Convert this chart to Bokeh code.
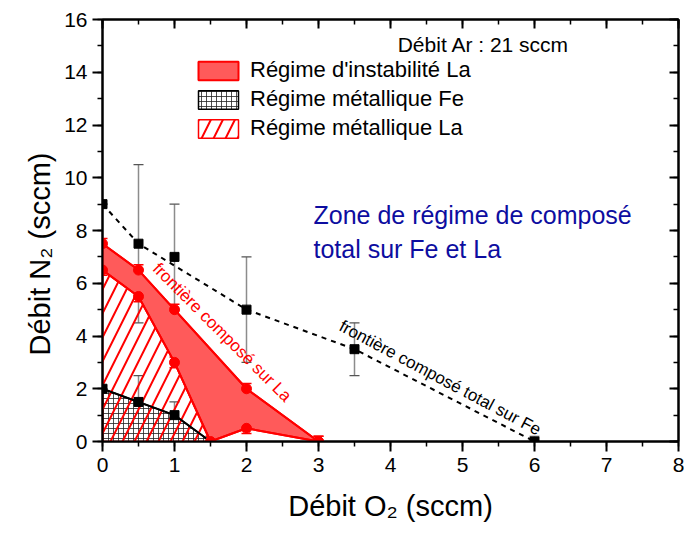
import math
from bokeh.plotting import figure
from bokeh.models import (LinearAxis, Range1d, Label, Whisker, ColumnDataSource, Title,
                          Legend, LegendItem, SingleIntervalTicker, TeeHead)
from bokeh.embed import file_html
from bokeh.resources import INLINE

# ---------------- data ----------------
# Fe: total-compound boundary (black squares, dashed)
fe_up_x = [0, 0.5, 1, 2, 3.5, 6]
fe_up_y = [9, 7.5, 7, 5, 3.5, 0]
fe_up_err = [0, 3, 2, 2, 1, 0.2]
# dashed guide line for Fe boundary
fe_dash_x = [0, 0.5, 2, 3.5, 6]
fe_dash_y = [9, 7.5, 5, 3.5, 0]
# Fe: metallic boundary (black squares, solid)
fe_lo_x = [0, 0.5, 1, 1.5]
fe_lo_y = [2, 1.5, 1, 0]
fe_lo_mk_x = [0, 0.5, 1]
fe_lo_mk_y = [2, 1.5, 1]
fe_lo_err = [0, 1, 0.5]
# La: compound boundary (upper red line)
la_up_x = [0, 0.5, 1, 2, 3]
la_up_y = [7.5, 6.5, 5, 2, 0]
# La: metallic boundary (lower red line)
la_lo_x = [0, 0.5, 1, 1.5, 2, 3]
la_lo_y = [6.5, 5.5, 3, 0, 0.5, 0]
la_err = 0.2

legend_labels = ["Régime d'instabilité La", "Régime métallique Fe", "Régime métallique La"]

FONT = "Liberation Sans"
RED = "#ff0000"
RED_FILL = "#ff5a5a"

p = figure(width=684, height=535, x_range=Range1d(0, 8), y_range=Range1d(0, 16),
           output_backend="svg", toolbar_location=None,
           min_border_left=102, min_border_right=6, min_border_top=19, min_border_bottom=94)
p.grid.visible = False
p.outline_line_color = "black"
p.outline_line_width = 2
p.background_fill_color = "white"
p.border_fill_color = "white"

for ax in (p.xaxis[0], p.yaxis[0]):
    ax.axis_line_width = 2
    ax.major_tick_line_width = 2
    ax.minor_tick_line_width = 1.5
    ax.major_tick_in = 0
    ax.major_tick_out = 10
    ax.minor_tick_in = 0
    ax.minor_tick_out = 5
    ax.major_label_text_font = FONT
    ax.major_label_text_font_size = "21px"
    ax.major_label_text_color = "black"
    ax.axis_label_text_font = FONT
    ax.axis_label_text_font_size = "29px"
    ax.axis_label_text_font_style = "normal"
    ax.axis_label_text_color = "black"
p.xaxis[0].ticker = SingleIntervalTicker(interval=1, num_minor_ticks=2)
p.yaxis[0].ticker = SingleIntervalTicker(interval=2, num_minor_ticks=2)
p.xaxis[0].major_label_standoff = 6
p.yaxis[0].major_label_standoff = 5
p.xaxis[0].axis_label = "Débit O₂ (sccm)"
p.xaxis[0].axis_label_standoff = 15

ytitle = Title(text="Débit N₂ (sccm)", align="left", offset=86, standoff=11,
               text_font=FONT, text_font_size="29px", text_font_style="normal",
               text_color="black")
p.add_layout(ytitle, "left")

top = LinearAxis(ticker=SingleIntervalTicker(interval=1, num_minor_ticks=2))
right = LinearAxis(ticker=SingleIntervalTicker(interval=2, num_minor_ticks=2))
for ax in (top, right):
    ax.axis_line_width = 2
    ax.major_tick_line_width = 2
    ax.minor_tick_line_width = 1.5
    ax.major_tick_in = 9
    ax.major_tick_out = 0
    ax.minor_tick_in = 5
    ax.minor_tick_out = 0
    ax.major_label_text_font_size = "0px"
    ax.major_label_text_color = None
    ax.major_label_standoff = 0
p.add_layout(top, "above")
p.add_layout(right, "right")

# ---------------- regions ----------------
fe_poly_x = [0] + fe_lo_x
fe_poly_y = [0] + fe_lo_y
r_fe = p.patch(fe_poly_x, fe_poly_y, fill_color="white", fill_alpha=1,
               line_color="black", line_width=1.5,
               hatch_pattern="+", hatch_color="#222222", hatch_scale=5, hatch_weight=0.8)

la_met_x = [0] + la_lo_x[:4]
la_met_y = [0] + la_lo_y[:4]
r_la = p.patch(la_met_x, la_met_y, fill_alpha=0, line_color=RED, line_width=1.5,
               hatch_pattern="/", hatch_color=RED, hatch_scale=24, hatch_weight=2)

inst_x = la_up_x + la_lo_x[::-1]
inst_y = la_up_y + la_lo_y[::-1]
r_inst = p.patch(inst_x, inst_y, fill_color=RED_FILL, line_color=RED, line_width=2)

# ---------------- error bars ----------------
src_fe_up = ColumnDataSource(dict(x=fe_up_x, lo=[y - e for y, e in zip(fe_up_y, fe_up_err)],
                                  hi=[y + e for y, e in zip(fe_up_y, fe_up_err)]))
src_fe_lo = ColumnDataSource(dict(x=fe_lo_mk_x, lo=[y - e for y, e in zip(fe_lo_mk_y, fe_lo_err)],
                                  hi=[y + e for y, e in zip(fe_lo_mk_y, fe_lo_err)]))
for src in (src_fe_up, src_fe_lo):
    p.add_layout(Whisker(source=src, base="x", lower="lo", upper="hi", dimension="height",
                         line_color="#8c8c8c", line_width=1.5,
                         upper_head=TeeHead(size=10, line_color="#555555", line_width=1.2),
                         lower_head=TeeHead(size=10, line_color="#555555", line_width=1.2)))

la_all_x = la_up_x + la_lo_x
la_all_y = la_up_y + la_lo_y
src_la = ColumnDataSource(dict(x=la_all_x, lo=[y - la_err for y in la_all_y],
                               hi=[y + la_err for y in la_all_y]))
p.add_layout(Whisker(source=src_la, base="x", lower="lo", upper="hi", dimension="height",
                     line_color=RED, line_width=1.5,
                     upper_head=TeeHead(size=10, line_color=RED, line_width=1.5),
                     lower_head=TeeHead(size=10, line_color=RED, line_width=1.5)))

# ---------------- lines & markers ----------------
p.line(la_up_x, la_up_y, line_color=RED, line_width=2)
p.line(la_lo_x, la_lo_y, line_color=RED, line_width=2)
p.line(fe_dash_x, fe_dash_y, line_color="black", line_width=2, line_dash="5 5")
p.line(fe_lo_x, fe_lo_y, line_color="black", line_width=2)

p.scatter(la_all_x, la_all_y, marker="circle", size=10, fill_color=RED, line_color=RED)
p.scatter(fe_up_x, fe_up_y, marker="square", size=9, fill_color="black", line_color="black")
p.scatter(fe_lo_mk_x, fe_lo_mk_y, marker="square", size=9, fill_color="black", line_color="black")

# ---------------- legend ----------------
legend = Legend(items=[LegendItem(label=legend_labels[0], renderers=[r_inst]),
                       LegendItem(label=legend_labels[1], renderers=[r_fe]),
                       LegendItem(label=legend_labels[2], renderers=[r_la])],
                location=(91, 300), padding=0, spacing=3, margin=0,
                glyph_width=50, glyph_height=23, label_standoff=7,
                label_text_font=FONT, label_text_font_size="22px", label_text_color="black",
                label_height=23, border_line_color=None, background_fill_alpha=0)
p.add_layout(legend)

# ---------------- texts ----------------
p.add_layout(Label(x=4.1, y=15.04, text="Débit Ar : 21 sccm", text_font=FONT,
                   text_font_size="21px", text_align="left", text_baseline="middle",
                   text_color="black"))
p.add_layout(Label(x=2.93, y=9.1, text="Zone de régime de composé\ntotal sur Fe et La",
                   text_font=FONT, text_font_size="25px", text_align="left",
                   text_baseline="top", text_color="#0d0da0"))
p.add_layout(Label(x=1.66, y=4.14, text="frontière composé sur La", text_font=FONT,
                   text_font_size="17px", text_align="center", text_baseline="middle",
                   text_color=RED, angle=-math.pi / 4))
p.add_layout(Label(x=4.69, y=2.41, text="frontière composé total sur Fe", text_font=FONT,
                   text_font_size="17px", text_align="center", text_baseline="middle",
                   text_color="black", angle=-math.radians(28)))

open("out.html", "w").write(file_html(p, INLINE))
